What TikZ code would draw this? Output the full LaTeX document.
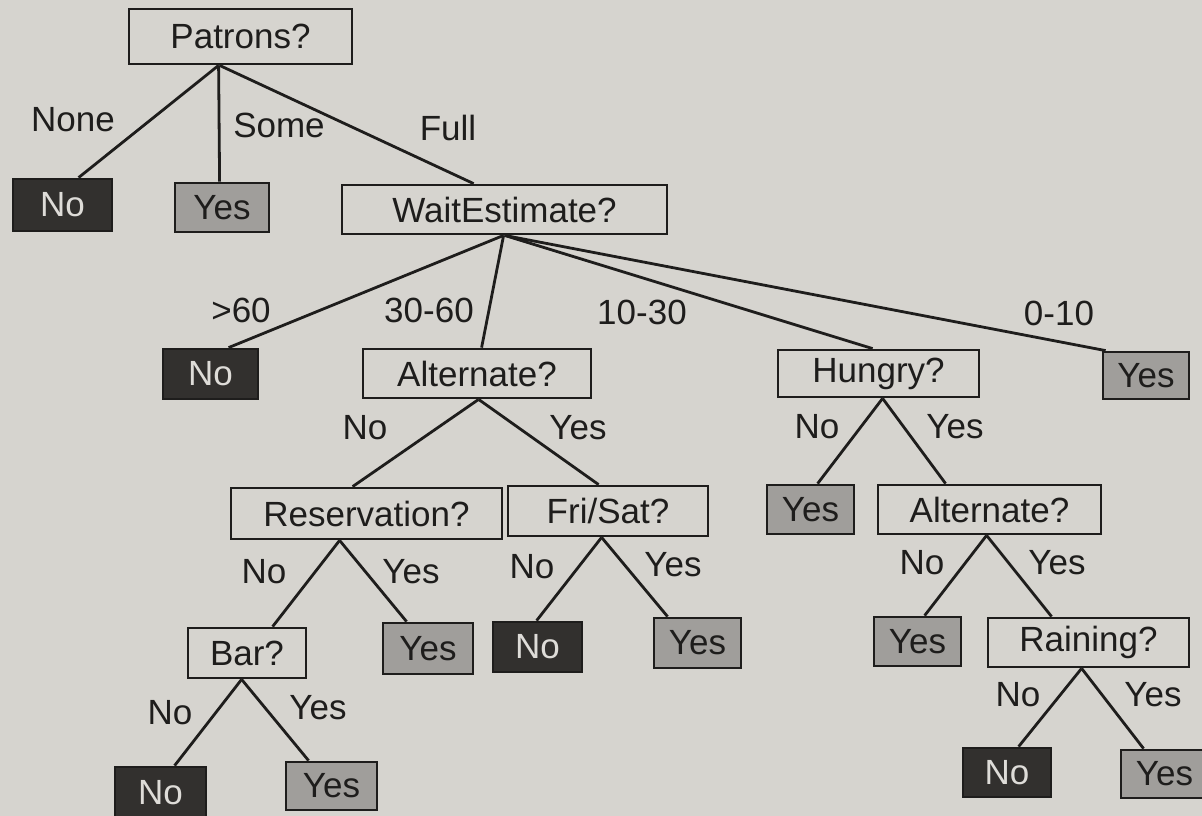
\documentclass[tikz,border=0pt]{standalone}
\usepackage{fontspec}
\setmainfont{Liberation Sans}
\usetikzlibrary{calc}
\definecolor{paper}{RGB}{214,212,207}
\definecolor{ink}{RGB}{30,29,28}
\definecolor{darkleaf}{RGB}{50,48,46}
\definecolor{greyleaf}{RGB}{160,158,155}
\definecolor{leaftext}{RGB}{222,220,216}
\begin{document}
\begin{tikzpicture}[x=1pt,y=-1pt,
  every node/.style={font=\fontsize{35}{40}\selectfont, text=ink, inner sep=0pt},
  qbox/.style={draw=ink, line width=2.8pt, rectangle},
  noleaf/.style={draw=ink, line width=2.8pt, fill=darkleaf, text=leaftext, rectangle},
  yesleaf/.style={draw=ink, line width=2.8pt, fill=greyleaf, text=ink, rectangle},
  branch/.style={draw=ink, line width=2.8pt},
  lbl/.style={}]
\fill[paper] (0,0) rectangle (1202,816);
\useasboundingbox (0,0) rectangle (1202,816);
\begin{scope}
\clip (0,0) rectangle (1202,816);
% question nodes
\node[qbox, minimum width=223pt, minimum height=55pt] (pat) at (240.5,36.5) {Patrons?};
\node[qbox, minimum width=325pt, minimum height=49pt] (wait) at (504.5,209.5) {WaitEstimate?};
\node[qbox, minimum width=228pt, minimum height=49pt] (alt1) at (477,373.5) {Alternate?};
\node[qbox, minimum width=201pt, minimum height=47pt] (hun) at (878.5,373.5) {Hungry?};
\node[qbox, minimum width=271pt, minimum height=51pt] (res) at (366.5,513.5) {Reservation?};
\node[qbox, minimum width=200pt, minimum height=50pt] (fri) at (608,511) {Fri/Sat?};
\node[qbox, minimum width=223pt, minimum height=49pt] (alt2) at (989.5,509.5) {Alternate?};
\node[qbox, minimum width=118pt, minimum height=50pt] (bar) at (247,653) {Bar?};
\node[qbox, minimum width=201pt, minimum height=49pt] (rain) at (1088.5,642.5) {Raining?};
% leaves
\node[noleaf, minimum width=99pt, minimum height=52pt] (n1) at (62.5,205) {No};
\node[yesleaf, minimum width=94pt, minimum height=49pt] (y1) at (222,207.5) {Yes};
\node[noleaf, minimum width=95pt, minimum height=50pt] (n2) at (210.5,374) {No};
\node[yesleaf, minimum width=86pt, minimum height=47pt] (y2) at (1146,375.5) {Yes};
\node[yesleaf, minimum width=87pt, minimum height=49pt] (y3) at (810.5,509.5) {Yes};
\node[yesleaf, minimum width=90pt, minimum height=51pt] (y4) at (428,648.5) {Yes};
\node[noleaf, minimum width=89pt, minimum height=50pt] (n3) at (537.5,647) {No};
\node[yesleaf, minimum width=87pt, minimum height=50pt] (y5) at (697.5,643) {Yes};
\node[yesleaf, minimum width=87pt, minimum height=49pt] (y6) at (917.5,641.5) {Yes};
\node[noleaf, minimum width=91pt, minimum height=51pt] (n4) at (160.5,792.5) {No};
\node[yesleaf, minimum width=91pt, minimum height=48pt] (y7) at (331.5,786) {Yes};
\node[noleaf, minimum width=88pt, minimum height=49pt] (n5) at (1007,772.5) {No};
\node[yesleaf, minimum width=87pt, minimum height=48pt] (y8) at (1164.5,774) {Yes};
% connectors
\draw[branch] ([xshift=91pt]pat.south west) -- ([xshift=67pt]n1.north west);
\draw[branch] ([xshift=91pt]pat.south west) -- ([xshift=46pt]y1.north west);
\draw[branch] ([xshift=92pt]pat.south west) -- ([xshift=133pt]wait.north west);
\draw[branch] ([xshift=163pt]wait.south west) -- ([xshift=67pt]n2.north west);
\draw[branch] ([xshift=163pt]wait.south west) -- ([xshift=120pt]alt1.north west);
\draw[branch] ([xshift=164pt]wait.south west) -- ([xshift=96pt]hun.north west);
\draw[branch] ([xshift=164pt]wait.south west) -- ([xshift=4pt]y2.north west);
\draw[branch] ([xshift=117pt]alt1.south west) -- ([xshift=123pt]res.north west);
\draw[branch] ([xshift=117pt]alt1.south west) -- ([xshift=92pt]fri.north west);
\draw[branch] ([xshift=106pt]hun.south west) -- ([xshift=52pt]y3.north west);
\draw[branch] ([xshift=106pt]hun.south west) -- ([xshift=69pt]alt2.north west);
\draw[branch] ([xshift=110pt]res.south west) -- ([xshift=86pt]bar.north west);
\draw[branch] ([xshift=110pt]res.south west) -- ([xshift=25pt]y4.north west);
\draw[branch] ([xshift=95pt]fri.south west) -- ([xshift=45pt]n3.north west);
\draw[branch] ([xshift=95pt]fri.south west) -- ([xshift=15pt]y5.north west);
\draw[branch] ([xshift=110pt]alt2.south west) -- ([xshift=52pt]y6.north west);
\draw[branch] ([xshift=110pt]alt2.south west) -- ([xshift=65pt]rain.north west);
\draw[branch] ([xshift=55pt]bar.south west) -- ([xshift=61pt]n4.north west);
\draw[branch] ([xshift=55pt]bar.south west) -- ([xshift=24pt]y7.north west);
\draw[branch] ([xshift=95pt]rain.south west) -- ([xshift=57pt]n5.north west);
\draw[branch] ([xshift=95pt]rain.south west) -- ([xshift=24pt]y8.north west);
% branch labels
\node[lbl] (l1) at (73,120) {None};
\node[lbl] (l2) at (279,125) {Some};
\node[lbl] (l3) at (448,128) {Full};
\node[lbl] (l4) at (241,310) {>60};
\node[lbl] (l5) at (429,310) {30-60};
\node[lbl] (l6) at (642,312) {10-30};
\node[lbl] (l7) at (1059,313) {0-10};
\node[lbl] (l8) at (365,428) {No};
\node[lbl] (l9) at (578,428) {Yes};
\node[lbl] (l10) at (817,427) {No};
\node[lbl] (l11) at (955,427) {Yes};
\node[lbl] (l12) at (264,572) {No};
\node[lbl] (l13) at (411,572) {Yes};
\node[lbl] (l14) at (532,567) {No};
\node[lbl] (l15) at (673,565) {Yes};
\node[lbl] (l16) at (922,563) {No};
\node[lbl] (l17) at (1057,563) {Yes};
\node[lbl] (l18) at (170,713) {No};
\node[lbl] (l19) at (318,708) {Yes};
\node[lbl] (l20) at (1018,695) {No};
\node[lbl] (l21) at (1153,695) {Yes};
\end{scope}
\end{tikzpicture}
\end{document}
